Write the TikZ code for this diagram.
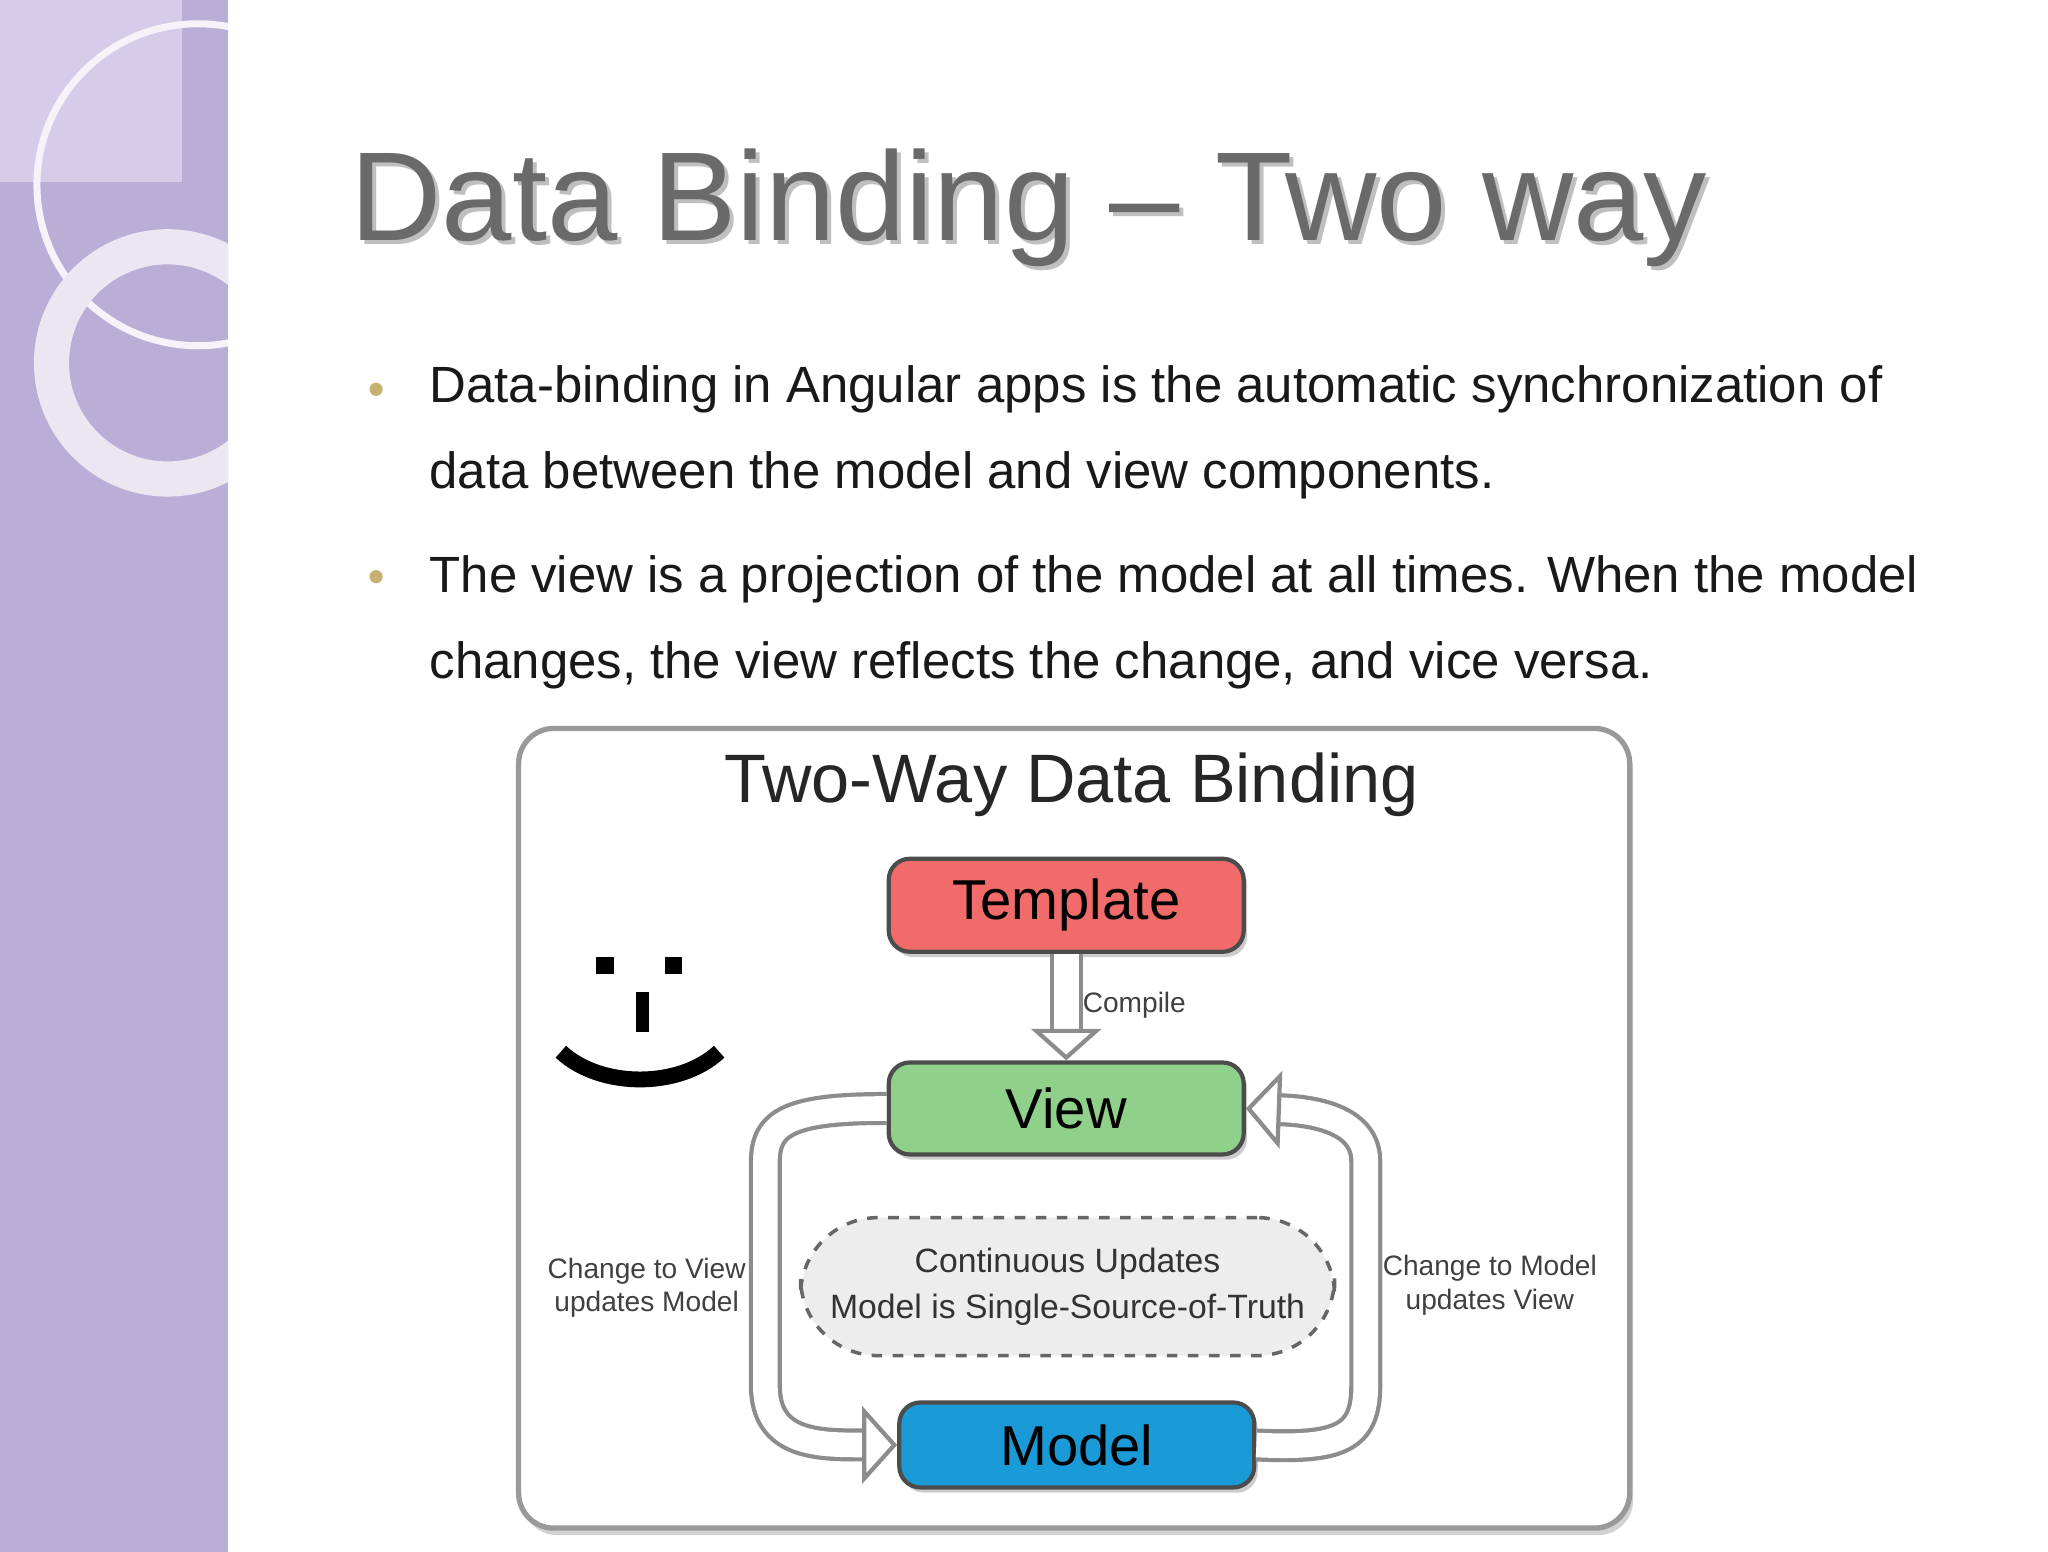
\documentclass[tikz,border=0pt]{standalone}
\usepackage{fontspec}
\setmainfont{Liberation Sans}
\usetikzlibrary{arrows.meta,shadows}
\definecolor{side}{HTML}{B9AED6}
\definecolor{sidel}{HTML}{D4CCE8}
\definecolor{ttl}{HTML}{6A6A6A}
\definecolor{bul}{HTML}{C8B070}
\definecolor{tred}{HTML}{F26B6B}
\definecolor{vgreen}{HTML}{8FD18A}
\definecolor{mblue}{HTML}{1A9BD7}
\tikzset{
  box/.style={draw=black!70,line width=1.2pt,rounded corners=6pt,inner sep=0pt,
    font=\fontsize{16}{19}\selectfont,drop shadow={shadow xshift=1pt,shadow yshift=-1.5pt,opacity=.4}},
  hollow/.style={draw=black!45,line width=1.2pt,double=white,double distance=7pt},
  lbl/.style={font=\fontsize{8}{9.5}\selectfont,text=black!75,align=center},
  btxt/.style={anchor=base west,font=\fontsize{14.5}{17}\selectfont,text=black!90,inner sep=0pt}
}
\begin{document}
\begin{tikzpicture}[x=0.013196cm,y=-0.013196cm]
\useasboundingbox (0,0) rectangle (1552,1176);
\fill[white] (0,0) rectangle (1552,1176);
% sidebar
\fill[side] (0,0) rectangle (173,1176);
\fill[sidel] (0,0) rectangle (138,138);
\begin{scope}
\clip (0,0) rectangle (173,1176);
\draw[white!85!side,line width=2pt] (150,140) circle (122);
\draw[white!70!side,line width=10pt] (127,275) circle (88);
\end{scope}
% title
\node[anchor=base west,inner sep=0pt,text=black!25,font=\fontsize{36}{42}\selectfont] at (268,185) {Data Binding – Two way};
\node[anchor=base west,inner sep=0pt,text=ttl,font=\fontsize{36}{42}\selectfont] (title) at (265,182) {Data Binding – Two way};
% bullets
\fill[bul] (285,295) circle (5);
\fill[bul] (285,437) circle (5);
\node[btxt] (b1) at (325,305) {Data-binding in Angular apps is the automatic synchronization of};
\node[btxt] (b2) at (325,370) {data between the model and view components.};
\node[btxt] (b3) at (325,449) {The view is a projection of the model at all times. When the model};
\node[btxt] (b4) at (325,514) {changes, the view reflects the change, and vice versa.};
% diagram frame
\draw[black!40,line width=1.5pt,rounded corners=10pt,fill=white,drop shadow={shadow xshift=1pt,shadow yshift=-2pt,opacity=.35}] (393,552) rectangle (1235,1158);
\node[font=\fontsize{19.5}{23}\selectfont,text=black!85] (dtitle) at (812,595) {Two-Way Data Binding};
% boxes
\node[box,fill=tred,minimum width=3.55cm,minimum height=0.93cm] (tpl) at (808,686) {Template};
\node[box,fill=vgreen,minimum width=3.55cm,minimum height=0.92cm] (view) at (808,840) {View};
\node[box,fill=mblue,minimum width=3.55cm,minimum height=0.85cm] (model) at (816,1095) {Model};
\node[draw=black!60,dashed,line width=1pt,fill=black!7,rounded corners=22pt,minimum width=5.34cm,minimum height=1.38cm,align=center,font=\fontsize{9.6}{13}\selectfont,text=black!80] (cu) at (809,975) {Continuous Updates\\Model is Single-Source-of-Truth};
% compile arrow
\draw[hollow,-{Triangle[open,length=9pt,width=20pt]}] (tpl.south) -- (view.north);
\node[lbl,anchor=west,inner sep=0pt] (cmp) at (820,762) {Compile};
% loops
\coordinate (l1) at (580,880);
\coordinate (l2) at (580,1050);
\draw[hollow,-{Triangle[open,length=10pt,width=22pt]}] (view.west) .. controls (600,840) and (580,850) .. (l1) -- (l2) .. controls (580,1095) and (620,1095) .. (model.west);
\coordinate (r1) at (1035,1050);
\coordinate (r2) at (1035,880);
\draw[hollow,-{Triangle[open,length=10pt,width=22pt]}] (model.east) .. controls (1015,1098) and (1035,1090) .. (r1) -- (r2) .. controls (1035,850) and (1000,842) .. (view.east);
\node[lbl] (lv) at (490,976) {Change to View\\updates Model};
\node[lbl] (rv) at (1129,974) {Change to Model\\updates View};
% smiley
\fill[black] (452,725) rectangle (465,738);
\fill[black] (504,725) rectangle (517,738);
\fill[black] (482,752) rectangle (492,782);
\draw[black,line width=4.5pt] (425,797) .. controls (455,825) and (515,825) .. (545,797);
\end{tikzpicture}
\end{document}
